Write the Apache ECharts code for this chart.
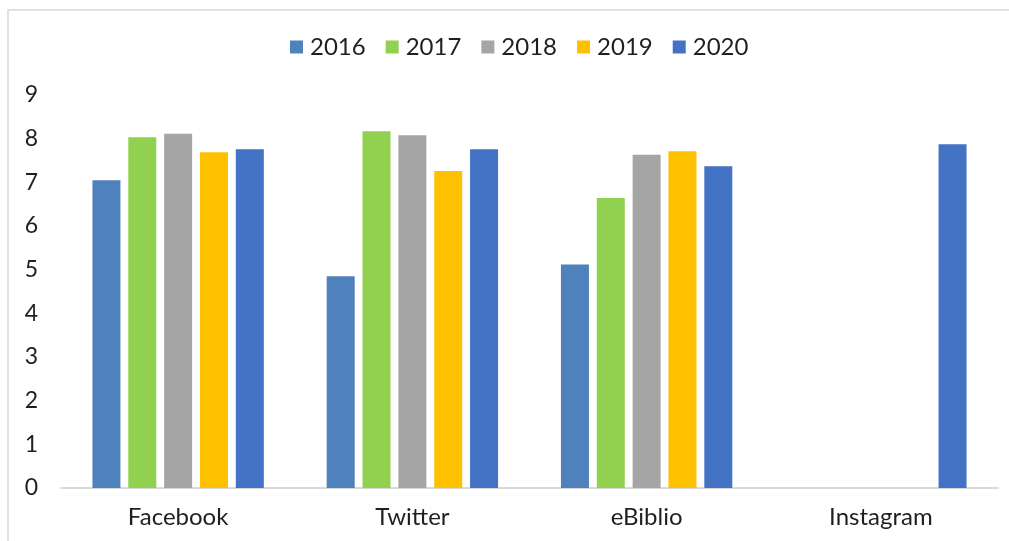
<!DOCTYPE html>
<html>
<head>
<meta charset="utf-8">
<script src="https://cdn.jsdelivr.net/npm/echarts@6/dist/echarts.min.js"></script>
<style>html,body{margin:0;padding:0;background:#fff}#c{width:1009px;height:541px}</style>
</head>
<body>
<div id="c"></div>
<script>
const categories = ['Facebook', 'Twitter', 'eBiblio', 'Instagram'];
const years = ['2016', '2017', '2018', '2019', '2020'];
const v2016 = [7.05, 4.85, 5.12, null];
const v2017 = [8.03, 8.17, 6.64, null];
const v2018 = [8.11, 8.08, 7.63, null];
const v2019 = [7.69, 7.26, 7.71, null];
const v2020 = [7.76, 7.76, 7.37, 7.87];
const yTicks = [0, 1, 2, 3, 4, 5, 6, 7, 8, 9];
const colors = ['#4F81BD', '#92D050', '#A5A5A5', '#FFC000', '#4472C4'];
const seriesData = [v2016, v2017, v2018, v2019, v2020];

const chart = echarts.init(document.getElementById('c'));
const font = 'Lato, "DejaVu Sans", sans-serif';
chart.setOption({
  animation: false,
  textStyle: { fontFamily: font },
  graphic: [{
    type: 'rect', silent: true, z: -1,
    shape: { x: 8, y: 10, width: 1010, height: 540 },
    style: { fill: 'none', stroke: '#d9d9d9', lineWidth: 1.5 }
  }],
  legend: {
    left: 285, top: 30,
    itemWidth: 13, itemHeight: 13, itemGap: 20,
    icon: 'rect',
    textStyle: { fontSize: 24, color: '#1f1f1f', fontFamily: font, padding: [0, 0, 0, 2] },
    data: years
  },
  grid: { left: 61, right: 11, top: 95, bottom: 53 },
  xAxis: {
    type: 'category',
    data: categories,
    axisLine: { lineStyle: { color: '#d9d9d9', width: 2 } },
    axisTick: { show: false },
    axisLabel: { fontSize: 24, color: '#1f1f1f', margin: 17, fontFamily: font }
  },
  yAxis: {
    type: 'value', min: 0, max: 9, interval: 1,
    axisLine: { show: false },
    axisTick: { show: false },
    splitLine: { show: false },
    axisLabel: { fontSize: 23, color: '#1f1f1f', margin: 23, fontFamily: font,
      formatter: v => yTicks.includes(v) ? String(v) : '' }
  },
  series: years.map((y, i) => ({
    name: y, type: 'bar', data: seriesData[i],
    barWidth: 28, barGap: '28%',
    itemStyle: { color: colors[i] }
  }))
});
</script>
</body>
</html>
